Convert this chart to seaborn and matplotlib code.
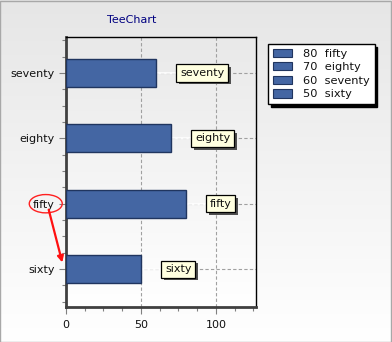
import numpy as np
import pandas as pd
import matplotlib
matplotlib.use("Agg")
import matplotlib.pyplot as plt
import seaborn as sns
from matplotlib.patches import Patch, Ellipse, Rectangle, FancyArrowPatch
from matplotlib.ticker import MultipleLocator, FixedLocator
import matplotlib.patheffects as pe

# Series data
categories = ["seventy", "eighty", "fifty", "sixty"]
values = [60, 70, 80, 50]
title = "TeeChart"
x_ticks = [0, 50, 100]

sns.set_theme(style="white")
plt.rcParams["font.family"] = ["DejaVu Sans"]
plt.rcParams["font.size"] = 7.5

bar_face = "#4466a3"
bar_edge = "#20355f"

fig = plt.figure(figsize=(3.92, 3.42), dpi=100)

# Panel background: light gray fading to white
bg = fig.add_axes([0, 0, 1, 1], zorder=-10)
grad = np.linspace(0, 1, 256).reshape(-1, 1)
bg.imshow(grad, aspect="auto", cmap=matplotlib.colors.LinearSegmentedColormap.from_list(
    "panel", ["#e6e6e6", "#ffffff"]), extent=[0, 1, 0, 1], origin="upper")
bg.set_axis_off()
fig.patches.append(Rectangle((0.001, 0.001), 0.997, 0.996, transform=fig.transFigure,
                             fill=False, edgecolor="#a8a8a8", linewidth=1))

ax = fig.add_axes([66 / 392, 1 - 307 / 342, 190 / 392, 270 / 342])
df = pd.DataFrame({"category": categories, "value": values})
sns.barplot(data=df, x="value", y="category", orient="h", width=0.43,
            color=bar_face, edgecolor=bar_edge, linewidth=1, saturation=1,
            ax=ax, zorder=3)

ymin, ymax = len(categories) - 1 + 0.58, -0.55
xmax = 126.7

# Plot-area gradient: gray at the top, white at the bottom
wall = ax.inset_axes([0, 0, 1, 1], zorder=0)
wall.imshow(grad, aspect="auto", extent=[0, 1, 0, 1], origin="upper",
            cmap=matplotlib.colors.LinearSegmentedColormap.from_list(
                "wall", ["#e9e9e9", "#ffffff"]))
wall.set_axis_off()
ax.set_xlim(0, xmax)
ax.set_ylim(ymin, ymax)

# Grid
for yi in range(len(categories)):
    ax.axhline(yi, color="#a0a0a0", linestyle=(0, (3, 2)), linewidth=0.8, zorder=1)
for xv in x_ticks[1:]:
    ax.axvline(xv, color="#a0a0a0", linestyle=(0, (3, 2)), linewidth=0.8, zorder=1)

# Mark labels with connectors
for yi, (cat, v) in enumerate(zip(categories, values)):
    ax.plot([v, v + 14], [yi, yi], color="white", linewidth=1.2, zorder=2)
    t = ax.text(v + 16, yi, cat, ha="left", va="center", fontsize=8, color="#101010",
                zorder=5,
                bbox=dict(boxstyle="square,pad=0.32", facecolor="#ffffe0",
                          edgecolor="black", linewidth=0.9))
    t.get_bbox_patch().set_path_effects([
        pe.SimplePatchShadow(offset=(2, -2), shadow_rgbFace="#505050", alpha=1.0),
        pe.Normal()])

# Axes styling
ax.set_xlabel("")
ax.set_ylabel("")
ax.xaxis.set_major_locator(FixedLocator(x_ticks))
ax.xaxis.set_minor_locator(MultipleLocator(12.5))
ax.yaxis.set_minor_locator(FixedLocator(
    [y for y in np.arange(-0.5, len(categories) + 0.5, 0.25) if abs(y - round(y)) > 1e-6]))
ax.tick_params(axis="both", which="major", length=5, width=0.8, color="#808080",
               labelsize=8, labelcolor="#111111", direction="out")
ax.tick_params(axis="both", which="minor", length=3, width=0.8, color="#808080",
               direction="out")
ax.tick_params(axis="y", which="major", pad=3)
ax.tick_params(axis="x", which="major", pad=4, bottom=True)
ax.tick_params(axis="x", which="minor", bottom=True)
ax.tick_params(axis="y", which="both", left=True)
for side in ["top", "right"]:
    ax.spines[side].set_color("black")
    ax.spines[side].set_linewidth(1)
for side in ["left", "bottom"]:
    ax.spines[side].set_color("#404040")
    ax.spines[side].set_linewidth(2)
ax.set_facecolor("none")

# Title
fig.text(132 / 392, 1 - 20 / 342, title, ha="center", va="center", fontsize=8,
         color="#000080")

# Legend, sorted by value
order = np.argsort(values)[::-1]
handles = [Patch(facecolor=bar_face, edgecolor=bar_edge, linewidth=0.8) for _ in order]
labels = [f"{values[i]}  {categories[i]}" for i in order]
leg = fig.legend(handles, labels, loc="upper left", bbox_to_anchor=(268 / 392, 1 - 44 / 342),
                 frameon=True, fancybox=False, shadow={"color": "black", "alpha": 1.0},
                 fontsize=8.2, handlelength=1.7, handleheight=0.75, handletextpad=1.0,
                 labelspacing=0.3, borderpad=0.4, borderaxespad=0)
leg.get_frame().set_edgecolor("black")
leg.get_frame().set_linewidth(1)
leg.get_frame().set_facecolor("white")
leg.get_frame().set_alpha(1)
for txt in leg.get_texts():
    txt.set_color("#111111")

# Highlight on the "fifty" label and arrow to "sixty"
i_f = categories.index("fifty")
i_s = categories.index("sixty")
ax.add_patch(Ellipse((-13.5, i_f), 22, 0.28, fill=False, edgecolor="#ff2020",
                     linewidth=1, clip_on=False, zorder=6))
ax.add_patch(FancyArrowPatch((-12, i_f + 0.05), (-2, i_s - 0.06), arrowstyle="-|>",
                             mutation_scale=9, color="#ff1010", linewidth=1.6,
                             clip_on=False, zorder=6))

fig.savefig("out.png", dpi=100)
